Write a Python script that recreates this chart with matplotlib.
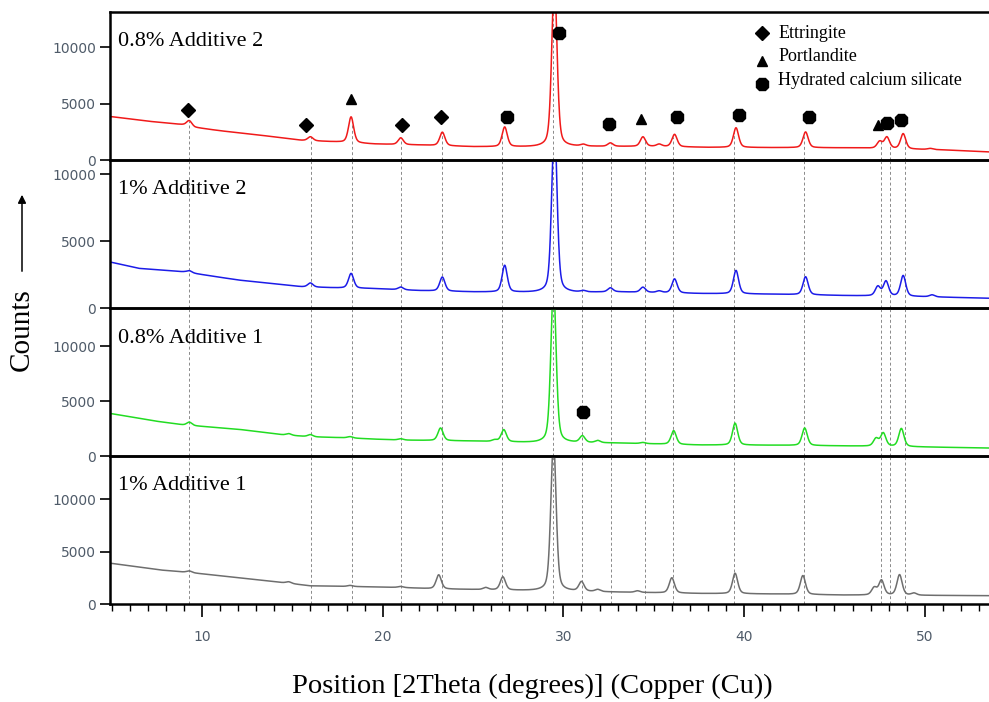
import matplotlib

matplotlib.use("Agg")

import matplotlib.pyplot as plt
import numpy as np
from matplotlib.patches import FancyArrowPatch
from matplotlib.ticker import MultipleLocator

plt.rcParams["font.family"] = ["Liberation Serif", "DejaVu Serif"]

# --- data (2theta in degrees, counts) ----------------------------------------
samples = ["0.8% Additive 2", "1% Additive 2", "0.8% Additive 1", "1% Additive 1"]
colors = ["#f01a1a", "#1c1ce8", "#22dc22", "#6e6e6e"]
y_tops = [13150, 11050, 13500, 14100]

# backgrounds
red_bg_x = [5, 7, 9.2, 9.6, 11, 13, 15.5, 17.5, 19.5, 22, 25, 28.5, 31, 35, 38, 41.5, 46, 51, 53.8]
red_bg_y = [3850, 3450, 3100, 2900, 2600, 2250, 1750, 1600, 1420, 1330, 1180, 1150, 1200, 1200, 1120, 1100, 1080, 900, 700]
blue_bg_x = [5, 6.5, 9, 12, 15.5, 17.5, 19.5, 22, 25, 28.5, 30.6, 33, 35, 37.5, 41.5, 45.5, 50, 53.8]
blue_bg_y = [3410, 2960, 2700, 2090, 1590, 1500, 1450, 1300, 1200, 1150, 1150, 1200, 1150, 1080, 1030, 930, 840, 720]
green_bg_x = [5, 7.4, 9, 12, 14.5, 16, 18, 19.5, 21, 25, 28.5, 30.6, 33, 37.5, 41.5, 45.5, 50, 53.8]
green_bg_y = [3860, 3190, 2830, 2440, 1930, 1750, 1660, 1540, 1450, 1360, 1200, 1200, 1180, 1000, 980, 920, 820, 720]
grey_bg_x = [5, 7.7, 9.3, 12.4, 14.8, 16, 18.2, 21, 23, 25, 28.5, 30.5, 33, 37.5, 41.5, 45.5, 50, 53.8]
grey_bg_y = [3870, 3240, 3000, 2440, 1970, 1730, 1670, 1570, 1430, 1380, 1250, 1200, 1130, 1000, 950, 850, 820, 790]

# peaks: position and height above background
red_pk_x = [9.3, 16.0, 18.25, 21.0, 23.3, 26.75, 29.5, 31.1, 32.6, 34.4, 35.3, 36.15, 39.55, 43.4, 47.5, 47.9, 48.8, 50.3]
red_pk_h = [450, 350, 2300, 600, 1200, 1750, 15000, 150, 300, 850, 200, 1100, 1750, 1400, 600, 1000, 1350, 100]
blue_pk_x = [9.3, 16.0, 18.25, 21.0, 23.3, 26.75, 29.5, 31.1, 32.6, 34.4, 35.3, 36.15, 39.55, 43.4, 47.4, 47.85, 48.8, 50.4]
blue_pk_h = [150, 300, 1100, 200, 1050, 2000, 13000, 100, 300, 380, 120, 1050, 1750, 1350, 700, 1100, 1550, 150]
green_pk_x = [9.3, 14.8, 16.0, 18.2, 21.0, 23.2, 26.2, 26.7, 29.45, 31.05, 31.9, 34.4, 36.1, 39.5, 43.35, 47.3, 47.7, 48.7]
green_pk_h = [300, 150, 200, 120, 120, 1150, 150, 1100, 14500, 600, 200, 100, 1250, 2000, 1600, 700, 1200, 1650]
grey_pk_x = [9.3, 14.8, 18.2, 21.0, 23.1, 25.7, 26.65, 29.45, 31.0, 31.9, 34.1, 36.0, 39.5, 43.25, 47.2, 47.6, 48.6, 49.4]
grey_pk_h = [150, 150, 100, 100, 1350, 200, 1250, 14500, 900, 200, 150, 1450, 1950, 1800, 700, 1400, 1950, 200]

# reference lines (dashed) through all panels
ref_lines = [9.3, 16.05, 18.3, 21.0, 23.3, 26.6, 29.45, 31.05, 32.65, 34.5, 36.05, 39.45, 43.3, 47.6, 48.05, 48.9]

# phase markers on the top panel
ettringite_x = [9.24, 15.75, 21.06, 23.2]
ettringite_y = [4470, 3150, 3150, 3810]
portlandite_x = [18.25, 34.3, 47.4]
portlandite_y = [5460, 3660, 3120]
csh_x = [26.9, 29.75, 32.5, 36.3, 39.7, 43.6, 47.9, 48.67]
csh_y = [3810, 11300, 3210, 3810, 3960, 3810, 3300, 3510]
csh_mid_x = [31.1]  # marker on the third panel
csh_mid_y = [4010]

backgrounds = [(red_bg_x, red_bg_y), (blue_bg_x, blue_bg_y), (green_bg_x, green_bg_y), (grey_bg_x, grey_bg_y)]
peaks = [(red_pk_x, red_pk_h), (blue_pk_x, blue_pk_h), (green_pk_x, green_pk_h), (grey_pk_x, grey_pk_h)]

X_MIN, X_MAX = 4.91, 53.55
HWHM = 0.17
ETA = 0.4  # lorentzian fraction of the peak shape
two_theta = np.linspace(X_MIN, X_MAX, 3000)


def pattern(bg, pk):
    y = np.interp(two_theta, bg[0], bg[1])
    sigma = HWHM / 1.1774
    for p, h in zip(*pk):
        d = two_theta - p
        lor = HWHM ** 2 / (HWHM ** 2 + d ** 2)
        gau = np.exp(-0.5 * (d / sigma) ** 2)
        y = y + h * (ETA * lor + (1 - ETA) * gau)
    return y


fig = plt.figure(figsize=(9.89, 7.02), dpi=100)
W, H = 989.0, 702.0
left, top, ph = 110, 12, 148

axes = []
for i in range(4):
    ax = fig.add_axes([left / W, 1 - (top + ph * (i + 1)) / H, (W - left) / W, ph / H])
    axes.append(ax)

dash = dict(color="#8a8a8a", linewidth=0.7, linestyle=(0, (3, 2.5)), zorder=1)

for i, ax in enumerate(axes):
    y = pattern(backgrounds[i], peaks[i])
    ax.plot(two_theta, y, color=colors[i], linewidth=1.1, zorder=2)
    ax.set_xlim(X_MIN, X_MAX)
    ax.set_ylim(0, y_tops[i])

    if i == 0:
        tops = np.interp(ref_lines, two_theta, y)
        ax.vlines(ref_lines, 0, tops, **dash)
    else:
        for xl in ref_lines:
            ax.axvline(xl, **dash)

    ax.text(0.009, 1 - 30 / ph, samples[i], transform=ax.transAxes,
            ha="left", va="center", fontsize=16)

    ax.set_yticks([0, 5000, 10000])
    ax.tick_params(axis="y", direction="out", length=7, width=1.2,
                   labelsize=10, labelcolor="#4f5b69", pad=3)
    for lab in ax.get_yticklabels():
        lab.set_family("DejaVu Sans")
    ax.spines["right"].set_visible(False)
    for s in ("left", "top", "bottom"):
        ax.spines[s].set_linewidth(1.8)
    ax.patch.set_alpha(0)

    if i < 3:
        ax.tick_params(axis="x", bottom=False, labelbottom=False)
    else:
        ax.xaxis.set_major_locator(MultipleLocator(10))
        ax.xaxis.set_minor_locator(MultipleLocator(1))
        ax.tick_params(axis="x", which="major", direction="out", length=9,
                       width=1.2, labelsize=10, labelcolor="#4f5b69", pad=10)
        ax.tick_params(axis="x", which="minor", direction="out", length=5, width=1.0)
        for lab in ax.get_xticklabels():
            lab.set_family("DejaVu Sans")

# phase markers
ax0 = axes[0]
ax0.plot(ettringite_x, ettringite_y, "D", color="black", ms=7, linestyle="none", zorder=4)
ax0.plot(portlandite_x, portlandite_y, "^", color="black", ms=7, linestyle="none", zorder=4)
ax0.plot(csh_x, csh_y, "8", color="black", ms=9.5, linestyle="none", zorder=4)
axes[2].plot(csh_mid_x, csh_mid_y, "8", color="black", ms=9.5, linestyle="none", zorder=4)

# key in the top panel
key_labels = ["Ettringite", "Portlandite", "Hydrated calcium silicate"]
key_marks = [("D", 7, 0.858), ("^", 7, 0.668), ("8", 9.5, 0.515)]
key_text_y = [0.858, 0.696, 0.534]
for (m, s, ym), lab, yt in zip(key_marks, key_labels, key_text_y):
    ax0.plot([0.742], [ym], m, color="black", ms=s, transform=ax0.transAxes,
             clip_on=False, zorder=5)
    ax0.text(0.760, yt, lab, transform=ax0.transAxes, ha="left", va="center",
             fontsize=13)

# axis titles
fig.text(532 / W, 1 - 686 / H, "Position [2Theta (degrees)] (Copper (Cu))",
         ha="center", va="center", fontsize=20.5)
fig.text(22 / W, 1 - 330 / H, "Counts", rotation=90, ha="center", va="center",
         fontsize=21)
arrow = FancyArrowPatch((22 / W, 1 - 274 / H), (22 / W, 1 - 192 / H),
                        transform=fig.transFigure, arrowstyle="-|>",
                        mutation_scale=12, linewidth=1.1, color="black")
fig.add_artist(arrow)

fig.savefig("out.png", dpi=100)
